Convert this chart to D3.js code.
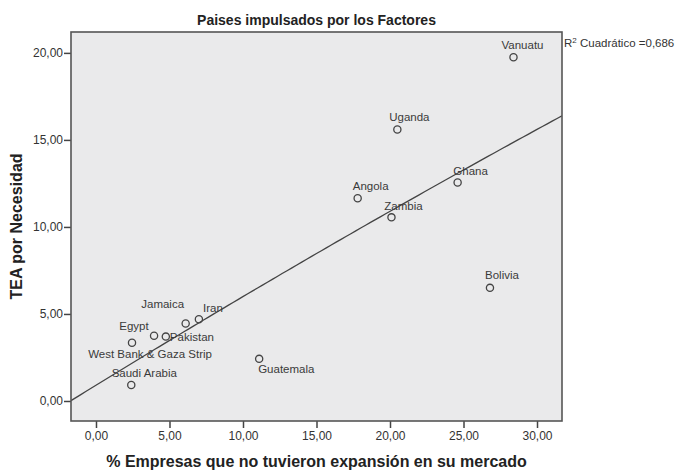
<!DOCTYPE html>
<html><head><meta charset="utf-8">
<script src="https://cdn.jsdelivr.net/npm/d3@7/dist/d3.min.js"></script>
<style>
body{margin:0;background:#fff;}
text{font-family:"Liberation Sans",Arial,sans-serif;}
</style></head>
<body><svg id="c" width="677" height="470"></svg>
<script>
// ---- data ----
const countries = ["Vanuatu","Uganda","Ghana","Angola","Zambia","Bolivia","Jamaica","Iran","Egypt","Pakistan","West Bank & Gaza Strip","Saudi Arabia","Guatemala"];
const noExpansion = [28.4, 20.5, 24.6, 17.8, 20.1, 26.8, 6.1, 7.0, 2.45, 4.75, 3.95, 2.4, 11.1];
const teaNecesidad = [19.75, 15.6, 12.55, 11.65, 10.55, 6.5, 4.45, 4.7, 3.35, 3.7, 3.75, 0.92, 2.42];
const xTicks = [0, 5, 10, 15, 20, 25, 30];
const yTicks = [0, 5, 10, 15, 20];
const fitCoef = [0.905, 0.519, -0.00097]; // quadratic fit: a + b x + c x^2
const titleText = "Paises impulsados por los Factores";
const xTitle = "% Empresas que no tuvieron expansión en su mercado";
const yTitle = "TEA por Necesidad";

// ---- layout (label placement offsets, px) ----
const labelOffsets = {
  "Vanuatu":[9,-12,"middle"], "Uganda":[12,-12,"middle"], "Ghana":[13,-12,"middle"],
  "Angola":[13,-12,"middle"], "Zambia":[12,-11,"middle"], "Bolivia":[12,-13,"middle"],
  "Jamaica":[-23,-20,"middle"], "Iran":[14,-11,"middle"], "Egypt":[2,-17,"middle"],
  "Pakistan":[4,0,"start"], "West Bank & Gaza Strip":[-4,18,"middle"],
  "Saudi Arabia":[13,-12,"middle"], "Guatemala":[-1,10,"start"]
};

const svg = d3.select("#c");
const L = 71, R = 562, T = 32, B = 421;
const x = d3.scaleLinear().domain([-1.7, 31.7]).range([L, R]);
const y = d3.scaleLinear().domain([-1.15, 21.2]).range([B, T]);
const fmt = d => d3.format(".2f")(d).replace(".", ",");

// plot background
svg.append("rect").attr("x", L).attr("y", T).attr("width", R - L).attr("height", B - T)
  .attr("fill", "#eaeaeb");

// axes
const xAxis = svg.append("g").attr("transform", `translate(0,${B})`)
  .call(d3.axisBottom(x).tickValues(xTicks).tickFormat(fmt).tickSize(7).tickPadding(3));
const yAxis = svg.append("g").attr("transform", `translate(${L},0)`)
  .call(d3.axisLeft(y).tickValues(yTicks).tickFormat(fmt).tickSize(7).tickPadding(1));
[xAxis, yAxis].forEach(g => {
  g.select(".domain").remove();
  g.selectAll(".tick line").attr("stroke", "#444").attr("stroke-width", 1.5);
  g.selectAll(".tick text").attr("fill", "#333").style("font-size", "12px")
   .style("font-family", "'Liberation Sans',Arial,sans-serif");
});

// fit line (clipped)
svg.append("clipPath").attr("id", "clip").append("rect")
  .attr("x", L).attr("y", T).attr("width", R - L).attr("height", B - T);
const xs = d3.range(0, 101).map(i => -1.7 + i * (33.4 / 100));
svg.append("path")
  .datum(xs)
  .attr("clip-path", "url(#clip)")
  .attr("fill", "none").attr("stroke", "#444").attr("stroke-width", 1.3)
  .attr("d", d3.line().x(d => x(d)).y(d => y(fitCoef[0] + fitCoef[1] * d + fitCoef[2] * d * d)));

// frame
svg.append("rect").attr("x", L).attr("y", T).attr("width", R - L).attr("height", B - T)
  .attr("fill", "none").attr("stroke", "#555").attr("stroke-width", 1.6);

// points
const pts = countries.map((c, i) => ({c, xv: noExpansion[i], yv: teaNecesidad[i]}));
svg.append("g").selectAll("circle").data(pts).join("circle")
  .attr("cx", d => x(d.xv)).attr("cy", d => y(d.yv)).attr("r", 3.6)
  .attr("fill", "none").attr("stroke", "#444").attr("stroke-width", 1.3);

svg.append("g").selectAll("text").data(pts).join("text")
  .attr("x", d => x(d.xv) + labelOffsets[d.c][0])
  .attr("y", d => y(d.yv) + labelOffsets[d.c][1])
  .attr("dy", "0.35em")
  .attr("text-anchor", d => labelOffsets[d.c][2])
  .attr("fill", "#3a3a3a").style("font-size", "11.5px")
  .text(d => d.c);

// R2 label
const r2 = svg.append("text").attr("x", R + 2).attr("y", 43).attr("dy", "0.35em")
  .attr("fill", "#333").style("font-size", "11.5px");
r2.append("tspan").text("R");
r2.append("tspan").attr("dy", "-4").style("font-size", "8px").text("2");
r2.append("tspan").attr("dy", "4").text(" Cuadrático =0,686");

// titles
svg.append("text").attr("x", (L + R) / 2).attr("y", 25).attr("text-anchor", "middle")
  .attr("fill", "#222").style("font-size", "14px").style("font-weight", "bold")
  .text(titleText);
svg.append("text").attr("x", (L + R) / 2).attr("y", 467).attr("text-anchor", "middle")
  .attr("fill", "#222").style("font-size", "16px").style("font-weight", "bold")
  .text(xTitle);
svg.append("text").attr("transform", `translate(22,${(T + B) / 2}) rotate(-90)`)
  .attr("text-anchor", "middle").attr("fill", "#222")
  .style("font-size", "16px").style("font-weight", "bold")
  .text(yTitle);
</script></body></html>
